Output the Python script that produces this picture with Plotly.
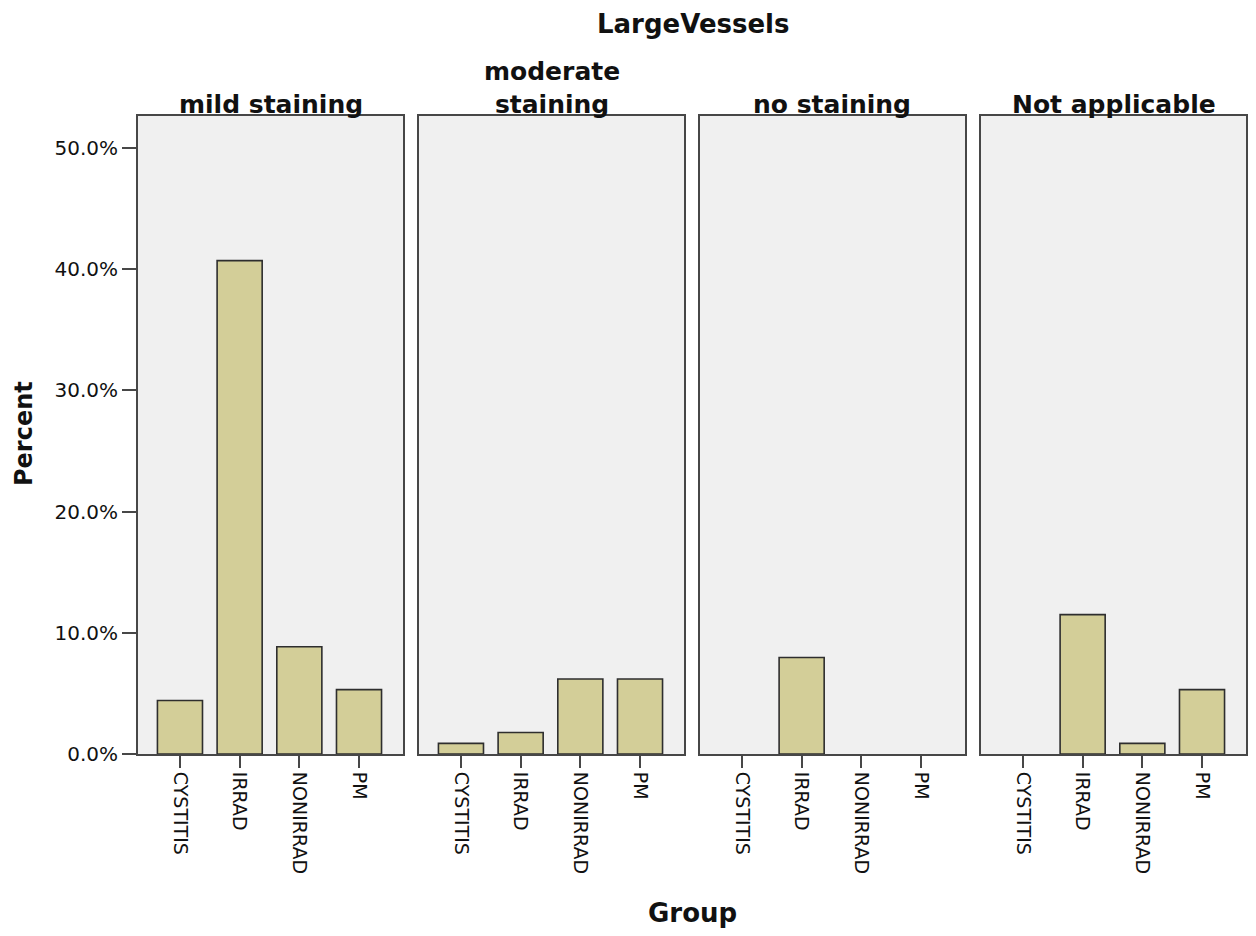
import plotly.graph_objects as go

# Percent of cases per staining level and group (LargeVessels)
groups = ["CYSTITIS", "IRRAD", "NONIRRAD", "PM"]
panels = ["mild staining", "moderate<br>staining", "no staining", "Not applicable"]
mild_staining = [4.42, 40.71, 8.85, 5.31]
moderate_staining = [0.88, 1.77, 6.19, 6.19]
no_staining = [0.0, 7.96, 0.0, 0.0]
not_applicable = [0.0, 11.50, 0.88, 5.31]
y_ticks = [0, 10, 20, 30, 40, 50]
y_tick_labels = ["0.0%", "10.0%", "20.0%", "30.0%", "40.0%", "50.0%"]

series = [mild_staining, moderate_staining, no_staining, not_applicable]

W, H = 1256, 936
panel_left = [138, 419, 700, 981]
panel_width = 265
plot_top, plot_bottom = 116, 754

bar_fill = "#D3CE98"
edge = "#2e2e2e"
frame = "#474747"
x_tick_font = dict(family="DejaVu Sans", size=19, color="#111111")
y_tick_font = dict(family="DejaVu Sans", size=20, color="#111111")


def bold(size):
    return dict(family="DejaVu Sans", size=size, color="#111111")


fig = go.Figure()
layout = {}
ydom = [1 - plot_bottom / H, 1 - plot_top / H]

for i, (name, vals) in enumerate(zip(panels, series)):
    n = i + 1
    xa = "x" if n == 1 else f"x{n}"
    ya = "y" if n == 1 else f"y{n}"
    # empty cells get no bar at all
    shown = [v if v > 0 else None for v in vals]
    fig.add_trace(go.Bar(
        x=groups, y=shown, xaxis=xa, yaxis=ya,
        width=0.755,
        marker=dict(color=bar_fill, line=dict(color=edge, width=1.6)),
        showlegend=False, hoverinfo="x+y",
    ))
    x0 = panel_left[i] / W
    x1 = (panel_left[i] + panel_width) / W
    xkey = "xaxis" if n == 1 else f"xaxis{n}"
    ykey = "yaxis" if n == 1 else f"yaxis{n}"
    layout[xkey] = dict(
        domain=[x0, x1], anchor=ya, type="category",
        categoryorder="array", categoryarray=groups,
        range=[-0.703, 3.737], automargin=False,
        showline=True, linecolor=frame, linewidth=2, mirror=True,
        ticks="outside", ticklen=12, tickwidth=2, tickcolor=frame,
        tickangle=90, tickfont=x_tick_font, showgrid=False, zeroline=False,
        fixedrange=True,
    )
    layout[ykey] = dict(
        domain=ydom, anchor=xa, range=[0, 52.64], automargin=False,
        tickmode="array", tickvals=y_ticks, ticktext=y_tick_labels,
        showticklabels=(n == 1),
        ticks="outside" if n == 1 else "", ticklen=14, tickwidth=2,
        tickcolor=frame,
        showline=True, linecolor=frame, linewidth=2, mirror=True,
        tickfont=y_tick_font, showgrid=False, zeroline=False,
        fixedrange=True,
    )
    fig.add_annotation(
        text=f"<b>{name}</b>", xref="paper", yref="paper",
        x=(x0 + x1) / 2, y=ydom[1], xanchor="center", yanchor="bottom",
        yshift=-5, showarrow=False, font=bold(25), align="center",
    )

fig.add_annotation(text="<b>LargeVessels</b>", xref="paper", yref="paper",
                   x=693 / W, y=1 - 24 / H, xanchor="center", yanchor="middle",
                   showarrow=False, font=bold(26))
fig.add_annotation(text="<b>Percent</b>", xref="paper", yref="paper",
                   x=24 / W, y=1 - 434 / H, xanchor="center", yanchor="middle",
                   textangle=-90, showarrow=False, font=bold(24))
fig.add_annotation(text="<b>Group</b>", xref="paper", yref="paper",
                   x=692 / W, y=1 - 913 / H, xanchor="center", yanchor="middle",
                   showarrow=False, font=bold(26))

fig.update_layout(
    width=W, height=H,
    margin=dict(l=0, r=0, t=0, b=0, autoexpand=False),
    paper_bgcolor="white", plot_bgcolor="#F0F0F0",
    bargap=0.25,
    **layout,
)

fig.write_html("out.html", config={"displayModeBar": False})
